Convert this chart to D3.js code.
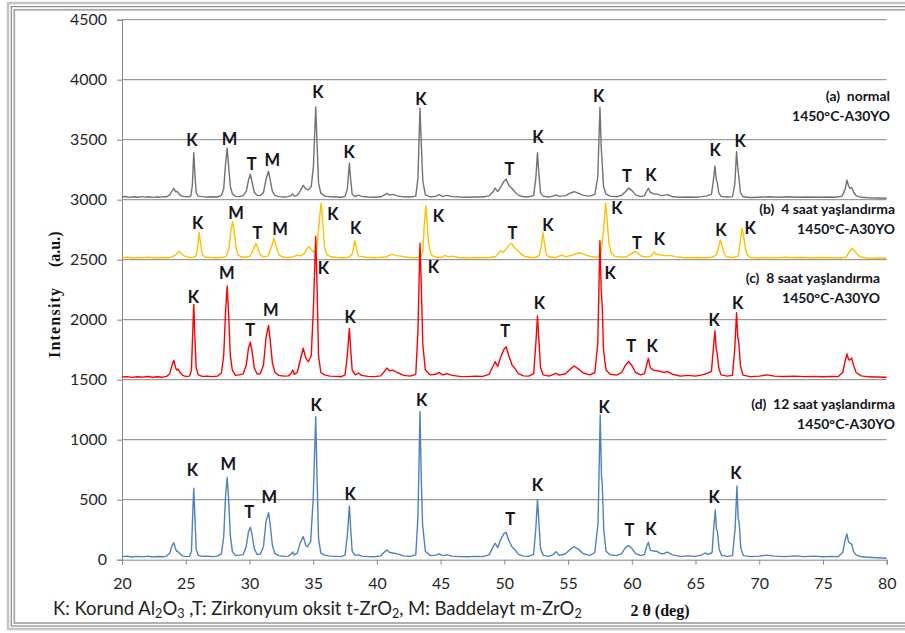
<!DOCTYPE html>
<html>
<head>
<meta charset="utf-8">
<script src="https://cdn.jsdelivr.net/npm/d3@7"></script>
<style>
  html, body { margin: 0; padding: 0; background: #fff; }
  svg { display: block; }
  text { white-space: pre; }
</style>
</head>
<body>
<svg id="chart" width="905" height="633"></svg>
<script>
// XRD patterns, 2θ (deg) vs. intensity, stacked with vertical offsets
const xTicks = [20, 25, 30, 35, 40, 45, 50, 55, 60, 65, 70, 75, 80];
const yTicks = [0, 500, 1000, 1500, 2000, 2500, 3000, 3500, 4000, 4500];

// (a) normal
const scanNormal = [
[20.0,3022],[20.3,3027],[20.6,3019],[20.9,3025],[21.2,3020],[21.5,3026],[21.8,3021],[22.1,3025],[22.4,3019],[22.7,3024],[23.0,3021],[23.25,3026],[23.5,3024],[23.75,3040],[23.92,3072],[24.07,3095],[24.2,3066],[24.32,3070],[24.45,3050],[24.65,3032],[24.9,3026],[25.2,3024],[25.4,3032],[25.52,3120],[25.63,3392],[25.72,3210],[25.82,3060],[25.98,3030],[26.3,3026],[26.7,3022],[27.1,3025],[27.5,3023],[27.8,3036],[27.98,3090],[28.12,3290],[28.25,3430],[28.36,3290],[28.5,3110],[28.66,3048],[28.9,3028],[29.2,3026],[29.5,3034],[29.75,3070],[29.92,3160],[30.07,3212],[30.2,3150],[30.38,3062],[30.6,3036],[30.85,3034],[31.1,3060],[31.3,3170],[31.5,3237],[31.62,3170],[31.8,3070],[32.0,3036],[32.3,3026],[32.7,3022],[33.05,3026],[33.25,3034],[33.4,3047],[33.52,3030],[33.75,3036],[33.98,3072],[34.22,3120],[34.42,3090],[34.62,3082],[34.85,3110],[35.02,3280],[35.2,3772],[35.3,3480],[35.42,3140],[35.6,3055],[35.9,3032],[36.3,3024],[36.8,3022],[37.2,3020],[37.5,3028],[37.68,3090],[37.84,3305],[37.94,3170],[38.06,3045],[38.3,3026],[38.55,3038],[38.8,3028],[39.3,3022],[39.8,3020],[40.3,3024],[40.6,3040],[40.78,3052],[41.0,3038],[41.25,3044],[41.6,3032],[42.1,3024],[42.6,3022],[43.05,3030],[43.22,3180],[43.38,3762],[43.48,3480],[43.6,3160],[43.8,3040],[44.2,3024],[44.6,3028],[44.9,3042],[45.15,3028],[45.5,3036],[45.9,3026],[46.5,3022],[47.1,3020],[47.7,3023],[48.3,3022],[48.8,3032],[49.1,3065],[49.28,3097],[49.48,3068],[49.72,3105],[49.95,3150],[50.14,3172],[50.35,3118],[50.55,3100],[50.8,3068],[51.1,3036],[51.5,3025],[51.9,3024],[52.3,3036],[52.47,3180],[52.6,3392],[52.7,3230],[52.84,3055],[53.05,3030],[53.5,3022],[53.85,3032],[54.05,3040],[54.3,3028],[54.8,3034],[55.2,3056],[55.48,3067],[55.8,3054],[56.2,3036],[56.7,3030],[57.1,3044],[57.33,3190],[57.5,3770],[57.6,3440],[57.68,3300],[57.78,3110],[57.98,3046],[58.3,3030],[58.8,3025],[59.2,3036],[59.5,3066],[59.75,3097],[60.0,3078],[60.3,3040],[60.7,3026],[61.0,3034],[61.16,3070],[61.3,3095],[61.45,3062],[61.7,3050],[62.0,3046],[62.35,3034],[62.8,3042],[63.2,3024],[63.8,3020],[64.4,3022],[65.0,3020],[65.5,3026],[65.9,3032],[66.25,3045],[66.4,3160],[66.52,3281],[66.62,3170],[66.7,3150],[66.82,3058],[67.0,3028],[67.5,3022],[67.9,3026],[68.08,3130],[68.22,3400],[68.32,3260],[68.4,3192],[68.52,3060],[68.72,3025],[69.3,3018],[70.0,3021],[70.8,3024],[71.5,3020],[72.3,3024],[73.0,3020],[73.8,3023],[74.6,3020],[75.4,3022],[76.0,3020],[76.5,3030],[76.75,3090],[76.88,3164],[77.0,3118],[77.1,3095],[77.25,3102],[77.4,3064],[77.6,3034],[78.0,3020],[78.6,3016],[79.2,3014],[80.0,3012]
];

// (b) 4 saat yaşlandırma
const scanAged4 = [
[20.0,2516],[20.4,2520],[20.8,2514],[21.2,2518],[21.6,2515],[22.0,2520],[22.4,2516],[22.8,2514],[23.2,2518],[23.6,2516],[23.95,2524],[24.2,2540],[24.4,2562],[24.52,2567],[24.7,2548],[24.9,2530],[25.2,2520],[25.5,2518],[25.8,2530],[25.93,2600],[26.06,2725],[26.16,2640],[26.3,2540],[26.5,2522],[26.9,2518],[27.4,2516],[27.9,2520],[28.2,2530],[28.4,2600],[28.55,2740],[28.68,2817],[28.8,2740],[28.95,2600],[29.1,2540],[29.35,2524],[29.7,2520],[30.05,2530],[30.3,2580],[30.5,2637],[30.65,2600],[30.85,2540],[31.1,2524],[31.45,2530],[31.7,2600],[31.93,2678],[32.08,2620],[32.3,2540],[32.6,2522],[33.0,2518],[33.4,2524],[33.8,2540],[34.0,2530],[34.3,2550],[34.5,2590],[34.65,2608],[34.85,2585],[35.05,2562],[35.3,2600],[35.5,2850],[35.62,2970],[35.74,2820],[35.9,2600],[36.1,2540],[36.4,2524],[36.9,2518],[37.4,2516],[37.8,2520],[38.05,2545],[38.17,2600],[38.27,2658],[38.38,2600],[38.55,2530],[38.9,2526],[39.2,2520],[39.7,2516],[40.2,2518],[40.7,2522],[41.05,2538],[41.2,2545],[41.5,2534],[41.9,2530],[42.4,2520],[42.9,2516],[43.4,2522],[43.6,2560],[43.72,2800],[43.84,2947],[43.94,2820],[44.05,2640],[44.25,2540],[44.6,2522],[45.0,2518],[45.35,2536],[45.6,2524],[45.9,2530],[46.4,2518],[47.0,2514],[47.6,2518],[48.2,2516],[48.8,2518],[49.3,2524],[49.55,2555],[49.72,2575],[49.9,2560],[50.15,2590],[50.4,2625],[50.57,2637],[50.75,2605],[51.0,2580],[51.3,2550],[51.6,2528],[52.0,2520],[52.4,2518],[52.75,2535],[52.9,2620],[53.03,2725],[53.14,2640],[53.3,2540],[53.55,2522],[54.0,2518],[54.3,2530],[54.5,2539],[54.8,2525],[55.3,2536],[55.65,2552],[55.9,2558],[56.25,2545],[56.7,2528],[57.2,2520],[57.55,2540],[57.75,2700],[57.95,2975],[58.07,2820],[58.2,2640],[58.4,2550],[58.7,2528],[59.1,2522],[59.6,2525],[59.9,2545],[60.2,2567],[60.45,2558],[60.75,2530],[61.2,2522],[61.5,2530],[61.75,2567],[61.9,2545],[62.2,2540],[62.6,2534],[63.0,2536],[63.4,2526],[64.0,2518],[64.6,2516],[65.2,2518],[65.8,2516],[66.3,2520],[66.65,2540],[66.8,2600],[66.95,2664],[67.08,2620],[67.2,2560],[67.4,2526],[67.9,2518],[68.35,2530],[68.5,2640],[68.65,2762],[68.78,2690],[68.9,2600],[69.05,2540],[69.3,2518],[69.9,2514],[70.6,2518],[71.3,2515],[72.0,2520],[72.7,2516],[73.4,2518],[74.1,2514],[74.8,2518],[75.5,2516],[76.2,2514],[76.8,2520],[77.05,2560],[77.27,2595],[77.45,2580],[77.65,2548],[77.9,2525],[78.4,2514],[79.0,2512],[79.6,2514],[80.0,2511]
];

// (c) 8 saat yaşlandırma
const scanAged8 = [
[20.0,1522],[20.4,1526],[20.8,1519],[21.2,1524],[21.6,1521],[22.0,1527],[22.4,1520],[22.8,1524],[23.2,1521],[23.5,1528],[23.75,1550],[23.92,1620],[24.07,1662],[24.2,1600],[24.3,1580],[24.4,1589],[24.55,1560],[24.75,1536],[25.0,1528],[25.3,1530],[25.45,1580],[25.55,1900],[25.63,2128],[25.72,1850],[25.82,1600],[25.98,1540],[26.3,1528],[26.7,1530],[27.1,1526],[27.5,1530],[27.8,1556],[27.98,1700],[28.12,2050],[28.25,2281],[28.36,2060],[28.5,1700],[28.66,1580],[28.9,1536],[29.2,1540],[29.5,1548],[29.75,1620],[29.92,1760],[30.07,1812],[30.2,1740],[30.38,1600],[30.6,1548],[30.85,1550],[31.1,1620],[31.3,1850],[31.5,1953],[31.62,1840],[31.8,1640],[32.0,1560],[32.3,1536],[32.7,1530],[33.05,1532],[33.25,1550],[33.4,1581],[33.52,1545],[33.75,1560],[33.98,1660],[34.22,1762],[34.42,1680],[34.62,1650],[34.85,1700],[35.02,2100],[35.2,2692],[35.3,2300],[35.42,1700],[35.6,1560],[35.9,1540],[36.3,1530],[36.8,1528],[37.2,1525],[37.5,1540],[37.68,1700],[37.84,1928],[37.94,1760],[38.06,1580],[38.3,1540],[38.55,1556],[38.8,1536],[39.3,1528],[39.8,1526],[40.3,1532],[40.6,1570],[40.78,1597],[41.0,1575],[41.25,1580],[41.6,1560],[42.1,1536],[42.6,1530],[43.05,1545],[43.22,1900],[43.38,2637],[43.48,2300],[43.6,1800],[43.8,1580],[44.2,1540],[44.6,1545],[44.9,1560],[45.15,1540],[45.5,1550],[45.9,1536],[46.5,1528],[47.1,1526],[47.7,1530],[48.3,1528],[48.8,1545],[49.1,1610],[49.28,1650],[49.48,1610],[49.72,1690],[49.95,1750],[50.14,1775],[50.35,1700],[50.6,1622],[50.85,1590],[51.1,1550],[51.5,1532],[51.9,1530],[52.3,1550],[52.47,1800],[52.6,2031],[52.7,1850],[52.84,1600],[53.05,1540],[53.5,1530],[53.85,1545],[54.05,1553],[54.3,1538],[54.8,1550],[55.2,1590],[55.48,1614],[55.8,1590],[56.2,1556],[56.7,1540],[57.1,1560],[57.33,1800],[57.5,2658],[57.6,2250],[57.68,2108],[57.78,1750],[57.98,1580],[58.3,1545],[58.8,1538],[59.2,1560],[59.5,1620],[59.75,1650],[60.0,1620],[60.3,1560],[60.7,1540],[61.0,1550],[61.16,1620],[61.3,1678],[61.45,1600],[61.7,1580],[62.0,1575],[62.3,1567],[62.55,1560],[62.8,1570],[63.2,1545],[63.8,1530],[64.4,1536],[65.0,1530],[65.5,1540],[65.9,1552],[66.25,1570],[66.4,1760],[66.52,1908],[66.62,1760],[66.7,1722],[66.82,1600],[67.0,1540],[67.5,1530],[67.9,1536],[68.08,1760],[68.22,2058],[68.32,1850],[68.4,1803],[68.52,1620],[68.72,1538],[69.3,1526],[70.0,1530],[70.6,1540],[71.2,1530],[72.0,1527],[72.8,1530],[73.5,1526],[74.3,1528],[75.0,1524],[75.7,1528],[76.2,1526],[76.55,1560],[76.75,1660],[76.88,1714],[77.0,1670],[77.1,1664],[77.25,1680],[77.4,1620],[77.6,1560],[78.0,1532],[78.6,1524],[79.2,1522],[80.0,1520]
];

// (d) 12 saat yaşlandırma
const scanAged12 = [
[20.0,26],[20.4,30],[20.8,22],[21.2,28],[21.6,24],[22.0,30],[22.4,23],[22.8,27],[23.2,24],[23.5,30],[23.75,55],[23.92,115],[24.07,142],[24.2,90],[24.3,70],[24.4,67],[24.55,50],[24.75,32],[25.0,26],[25.3,28],[25.45,70],[25.55,380],[25.63,595],[25.72,360],[25.82,90],[25.98,36],[26.3,28],[26.7,30],[27.1,26],[27.5,30],[27.8,50],[27.98,190],[28.12,520],[28.25,684],[28.36,520],[28.5,200],[28.66,70],[28.9,34],[29.2,38],[29.5,42],[29.75,110],[29.92,230],[30.07,270],[30.2,210],[30.38,90],[30.6,44],[30.85,45],[31.1,110],[31.3,320],[31.5,392],[31.62,300],[31.8,120],[32.0,50],[32.3,34],[32.7,28],[33.05,30],[33.25,45],[33.4,64],[33.52,40],[33.75,55],[33.98,140],[34.22,192],[34.42,120],[34.55,108],[34.8,150],[35.0,500],[35.2,1192],[35.3,700],[35.42,180],[35.6,55],[35.9,38],[36.3,30],[36.8,28],[37.2,26],[37.5,38],[37.68,200],[37.84,447],[37.94,260],[38.06,70],[38.3,36],[38.55,40],[38.8,30],[39.3,26],[39.8,25],[40.3,32],[40.6,65],[40.78,81],[41.0,60],[41.25,56],[41.6,48],[42.1,32],[42.6,28],[43.05,40],[43.22,350],[43.38,1234],[43.48,680],[43.58,300],[43.8,70],[44.2,34],[44.6,38],[44.9,48],[45.15,34],[45.5,40],[45.9,30],[46.5,26],[47.1,24],[47.7,28],[48.3,26],[48.8,40],[49.1,105],[49.28,137],[49.48,100],[49.72,170],[49.95,215],[50.14,228],[50.35,160],[50.6,108],[50.85,80],[51.1,45],[51.5,30],[51.9,28],[52.3,45],[52.47,260],[52.6,503],[52.7,330],[52.84,90],[53.05,36],[53.5,28],[53.85,45],[54.05,67],[54.3,36],[54.8,50],[55.2,90],[55.48,108],[55.8,88],[56.2,50],[56.7,36],[57.1,60],[57.35,300],[57.52,1206],[57.62,700],[57.68,639],[57.8,250],[57.98,70],[58.3,40],[58.8,34],[59.2,50],[59.5,100],[59.75,117],[60.0,95],[60.3,50],[60.7,34],[61.0,45],[61.16,110],[61.3,145],[61.45,80],[61.7,72],[62.0,68],[62.3,50],[62.55,52],[62.8,64],[63.2,40],[63.8,28],[64.4,32],[65.0,28],[65.5,40],[65.75,56],[66.0,45],[66.3,60],[66.42,250],[66.55,414],[66.64,260],[66.72,233],[66.85,90],[67.05,36],[67.5,28],[67.9,34],[68.1,250],[68.25,614],[68.35,340],[68.42,317],[68.55,100],[68.75,34],[69.3,26],[70.0,30],[70.6,38],[71.2,30],[72.0,26],[72.8,32],[73.5,26],[74.3,30],[75.0,24],[75.7,28],[76.2,26],[76.55,60],[76.75,170],[76.88,214],[77.0,150],[77.1,139],[77.25,130],[77.4,67],[77.6,40],[78.0,24],[78.6,20],[79.2,16],[80.0,12]
];

// Phase markers: [phase letter, 2θ, intensity level of the letter]
const marksNormal = [
["K",25.49,3498],["M",28.44,3502],["T",30.18,3298],["M",31.8,3331],["K",35.38,3898],["K",37.82,3395],["K",43.45,3839],
["T",50.4,3253],["K",52.63,3520],["K",57.39,3867],["T",59.62,3200],["K",61.5,3206],["K",66.55,3414],["K",68.51,3489]
];
const marksAged4 = [
["K",25.94,2808],["M",28.95,2887],["T",30.62,2725],["M",32.4,2753],["K",36.54,2878],["K",38.34,2767],["K",44.83,2864],
["T",50.64,2720],["K",53.41,2789],["K",58.83,2928],["T",60.4,2642],["K",62.17,2672],["K",66.99,2748],["K",69.29,2762]
];
const marksAged8 = [
["K",25.6,2192],["M",28.22,2392],["T",30.05,1914],["M",31.67,2081],["K",35.8,2428],["K",37.9,2020],["K",44.43,2437],
["T",50.06,1908],["K",52.75,2137],["K",58.3,2387],["T",59.95,1781],["K",61.6,1781],["K",66.47,1998],["K",68.3,2137]
];
const marksAged12 = [
["K",25.52,748],["M",28.34,795],["T",29.99,395],["M",31.56,520],["K",35.23,1289],["K",37.9,548],["K",43.52,1331],
["T",50.45,337],["K",52.6,623],["K",57.83,1275],["T",59.82,248],["K",61.5,253],["K",66.47,520],["K",68.17,725]
];

const captionNormal = ["(a)  normal", "1450°C-A30YO"];
const captionAged4 = ["(b)  4 saat yaşlandırma", "1450°C-A30YO"];
const captionAged8 = ["(c)  8 saat yaşlandırma", "1450°C-A30YO"];
const captionAged12 = ["(d)  12 saat yaşlandırma", "1450°C-A30YO"];

const series = [
  { data: scanNormal,  marks: marksNormal,  caption: captionNormal,  color: "#727272", capX: 890, capY: 95 },
  { data: scanAged4,   marks: marksAged4,   caption: captionAged4,   color: "#FFC000", capX: 895, capY: 208 },
  { data: scanAged8,   marks: marksAged8,   caption: captionAged8,   color: "#FF0000", capX: 880, capY: 277 },
  { data: scanAged12,  marks: marksAged12,  caption: captionAged12,  color: "#4F81BD", capX: 895, capY: 403 }
];

const sansFont = "Lato, 'Open Sans', sans-serif";
const serifFont = "'Liberation Serif', 'Times New Roman', serif";

const svg = d3.select("#chart");
const plotLeft = 122, plotRight = 886.7, plotTop = 19.7, plotBottom = 559.7;

// scale a font size so that a reference string reaches the wanted width
function fittedSize(sample, size, wanted, weight) {
  const probe = svg.append("text").attr("font-family", sansFont)
    .attr("font-size", size).attr("font-weight", weight || 400).text(sample);
  const w = probe.node().getComputedTextLength();
  probe.remove();
  return w > 0 ? size * wanted / w : size;
}

// chart area border (double frame)
const frame = svg.append("g").attr("fill", "none");
frame.append("rect").attr("x", 8).attr("y", 3).attr("width", 920).attr("height", 626)
  .attr("stroke", "#c4c4c4").attr("stroke-width", 2.5);
frame.append("rect").attr("x", 11.3).attr("y", 6.6).attr("width", 920).attr("height", 619.4)
  .attr("stroke", "#8a8a8a").attr("stroke-width", 1.2);
frame.append("rect").attr("x", 14.3).attr("y", 9.8).attr("width", 920).attr("height", 613.2)
  .attr("stroke", "#a8a8a8").attr("stroke-width", 1.8);

const x = d3.scaleLinear().domain([20, 80]).range([plotLeft, plotRight]);
const y = d3.scaleLinear().domain([0, 4500]).range([plotBottom, plotTop]);

// horizontal gridlines
svg.append("g")
  .selectAll("line").data(yTicks.filter(d => d > 0)).join("line")
  .attr("x1", plotLeft).attr("x2", plotRight)
  .attr("y1", d => y(d)).attr("y2", d => y(d))
  .attr("stroke", "#868686").attr("stroke-width", 1);

const tickSize = fittedSize("4500", 15, 37);

// y axis
const yAxis = svg.append("g").attr("transform", `translate(${plotLeft},0)`)
  .call(d3.axisLeft(y).tickValues(yTicks).tickSize(5).tickPadding(10).tickFormat(d3.format("d")));
yAxis.select(".domain").attr("stroke", "#868686");
yAxis.selectAll(".tick line").attr("stroke", "#868686");
yAxis.selectAll(".tick text").attr("font-family", sansFont)
  .attr("font-size", tickSize).attr("fill", "#262626");

// x axis
const xAxis = svg.append("g").attr("transform", `translate(0,${plotBottom})`)
  .call(d3.axisBottom(x).tickValues(xTicks).tickSize(5).tickPadding(13).tickFormat(d3.format("d")));
xAxis.select(".domain").attr("stroke", "#868686");
xAxis.selectAll(".tick line").attr("stroke", "#868686");
xAxis.selectAll(".tick text").attr("font-family", sansFont)
  .attr("font-size", tickSize).attr("fill", "#262626");

// diffraction patterns
const line = d3.line().x(d => x(d[0])).y(d => y(d[1]));
series.forEach(s => {
  svg.append("path").datum(s.data)
    .attr("d", line)
    .attr("fill", "none")
    .attr("stroke", s.color)
    .attr("stroke-width", 1.4)
    .attr("stroke-linejoin", "round");
});

// phase letters
series.forEach(s => {
  svg.append("g").selectAll("text").data(s.marks).join("text")
    .attr("x", d => x(d[1])).attr("y", d => y(d[2]))
    .attr("text-anchor", "middle").attr("dominant-baseline", "central")
    .attr("font-family", sansFont).attr("font-weight", 700)
    .attr("font-size", 16.5).attr("fill", "#141421")
    .text(d => d[0]);
});

// series captions
const captionSize = fittedSize("1450°C-A30YO", 14, 98, 700);
series.forEach(s => {
  svg.append("g").selectAll("text").data(s.caption).join("text")
    .attr("x", s.capX).attr("y", (d, i) => s.capY + i * 20)
    .attr("text-anchor", "end").attr("dominant-baseline", "central")
    .attr("font-family", sansFont).attr("font-weight", 700)
    .attr("font-size", captionSize).attr("fill", "#141421")
    .text(d => d);
});

// y axis title
const yTitle = svg.append("text")
  .attr("transform", "translate(54,0) rotate(-90)")
  .attr("dominant-baseline", "central")
  .attr("font-family", serifFont).attr("font-weight", 700)
  .attr("font-size", 16).attr("fill", "#111");
yTitle.append("tspan").attr("x", -358).attr("letter-spacing", 1.2).text("Intensity");
yTitle.append("tspan").attr("x", -267).text("(a.u.)");

// x axis title
svg.append("text")
  .attr("x", 660).attr("y", 610)
  .attr("text-anchor", "middle").attr("dominant-baseline", "central")
  .attr("font-family", serifFont).attr("font-weight", 700)
  .attr("font-size", 16).attr("fill", "#111")
  .text("2 θ (deg)");

// phase key with chemical subscripts
const keyParts = [
  ["K: Korund Al", false], ["2", true], ["O", false], ["3", true],
  [" ,T: Zirkonyum oksit t-ZrO", false], ["2", true],
  [", M: Baddelayt m-ZrO", false], ["2", true]
];
const key = svg.append("text")
  .attr("x", 53).attr("y", 608)
  .attr("dominant-baseline", "central")
  .attr("font-family", sansFont).attr("fill", "#222");
function drawKey(base) {
  key.selectAll("tspan").remove();
  let shifted = false;
  keyParts.forEach(([t, sub]) => {
    const dy = sub ? (shifted ? 0 : base * 0.28) : (shifted ? -base * 0.28 : 0);
    shifted = sub;
    key.append("tspan").attr("font-size", sub ? base * 0.68 : base).attr("dy", dy).text(t);
  });
}
drawKey(16);
const keyWidth = key.node().getComputedTextLength();
drawKey(16 * 529 / keyWidth);
</script>
</body>
</html>
